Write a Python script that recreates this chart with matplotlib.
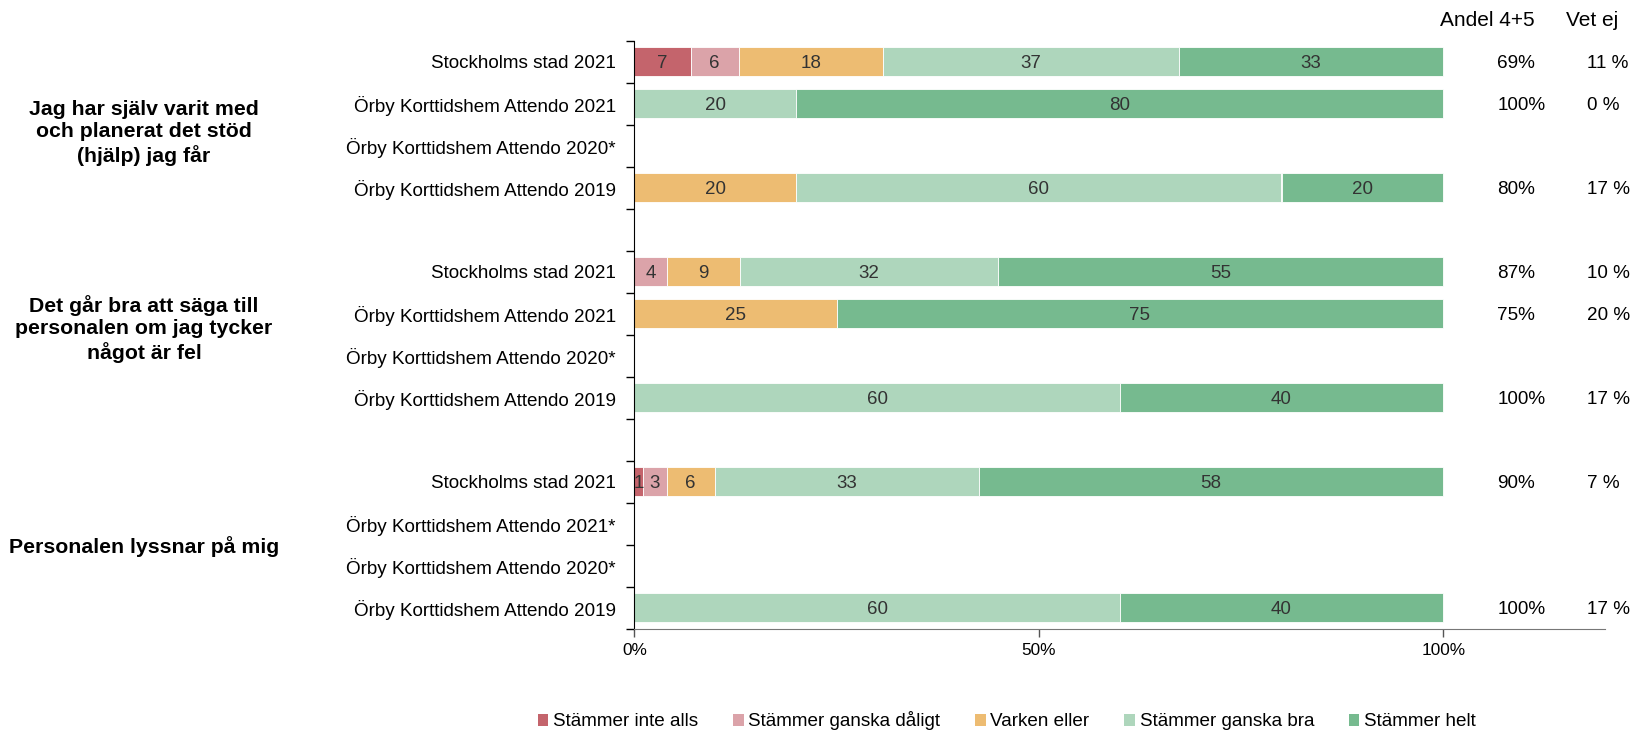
import numpy as np
import matplotlib
matplotlib.use("Agg")
import matplotlib.pyplot as plt
from matplotlib.patches import Patch

plt.rcParams['font.family'] = ['Liberation Sans', 'DejaVu Sans']

# rows from top to bottom, None = empty slot between the groups
rows = ["Stockholms stad 2021", "Örby Korttidshem Attendo 2021", "Örby Korttidshem Attendo 2020*",
        "Örby Korttidshem Attendo 2019", None,
        "Stockholms stad 2021", "Örby Korttidshem Attendo 2021", "Örby Korttidshem Attendo 2020*",
        "Örby Korttidshem Attendo 2019", None,
        "Stockholms stad 2021", "Örby Korttidshem Attendo 2021*", "Örby Korttidshem Attendo 2020*",
        "Örby Korttidshem Attendo 2019"]

series = ["Stämmer inte alls", "Stämmer ganska dåligt", "Varken eller", "Stämmer ganska bra", "Stämmer helt"]
colors = ["#C4646C", "#DBA3A9", "#EDBC72", "#AED6BC", "#76BA8F"]

inte_alls = [7, 0, 0, 0, 0, 0, 0, 0, 0, 0, 1, 0, 0, 0]
daligt    = [6, 0, 0, 0, 0, 4, 0, 0, 0, 0, 3, 0, 0, 0]
varken    = [18, 0, 0, 20, 0, 9, 25, 0, 0, 0, 6, 0, 0, 0]
ganska_bra = [37, 20, 0, 60, 0, 32, 0, 0, 60, 0, 33, 0, 0, 60]
helt      = [33, 80, 0, 20, 0, 55, 75, 0, 40, 0, 58, 0, 0, 40]

andel = ["69%", "100%", "", "80%", "", "87%", "75%", "", "100%", "", "90%", "", "", "100%"]
vet_ej = ["11 %", "0 %", "", "17 %", "", "10 %", "20 %", "", "17 %", "", "7 %", "", "", "17 %"]

questions = ["Jag har själv varit med\noch planerat det stöd\n(hjälp) jag får",
             "Det går bra att säga till\npersonalen om jag tycker\nnågot är fel",
             "Personalen lyssnar på mig"]

vals = np.array([inte_alls, daligt, varken, ganska_bra, helt], dtype=float)
tot = vals.sum(axis=0)
tot[tot == 0] = 1
frac = vals / tot

fig = plt.figure(figsize=(16.31, 7.32), dpi=100)
ax = fig.add_axes([634.5 / 1631, 1 - 628.7 / 732, (1605 - 634.5) / 1631, (628.7 - 40.7) / 732])

n = len(rows)
y = np.arange(n)
left = np.zeros(n)
for k in range(len(series)):
    ax.barh(y, frac[k], left=left, height=0.68, color=colors[k], edgecolor="white", linewidth=0.6)
    for i in range(n):
        if vals[k, i] > 0:
            ax.text(left[i] + frac[k, i] / 2, y[i], "%d" % vals[k, i], ha="center", va="center_baseline",
                    fontsize=13.5, color="#333333")
    left += frac[k]

ax.set_ylim(n - 0.5, -0.5)
ax.set_xlim(0, 1.2)
ax.set_xticks([0, 0.5, 1.0])
ax.set_xticklabels(["0%", "50%", "100%"], fontsize=12.4)
ax.set_yticks(y)
ax.set_yticklabels([r if r else "" for r in rows], fontsize=13.6)
ax.tick_params(axis="y", which="major", length=0, pad=13.5)
ax.set_yticks(np.arange(n + 1) - 0.5, minor=True)
ax.tick_params(axis="y", which="minor", length=6, width=1, color="black")
ax.tick_params(axis="x", length=6, width=1, color="#555555", pad=4)
for s in ["top", "right"]:
    ax.spines[s].set_visible(False)
ax.spines["left"].set_color("black")
ax.spines["bottom"].set_color("#777777")

for i in range(n):
    ax.text(1.067, y[i], andel[i], ha="left", va="center_baseline", fontsize=13.6, color="black")
    ax.text(1.178, y[i], vet_ej[i], ha="left", va="center_baseline", fontsize=13.6, color="black")

fig.text(1487 / 1631, 1 - 21 / 732, "Andel 4+5", ha="center", va="center", fontsize=15)
fig.text(1592 / 1631, 1 - 21 / 732, "Vet ej", ha="center", va="center", fontsize=15)

q_y = [133, 329, 547]
for q, yy in zip(questions, q_y):
    fig.text(144 / 1631, 1 - yy / 732, q, ha="center", va="center", fontsize=15.3,
             fontweight="bold", linespacing=1.25)

handles = [Patch(facecolor=c, edgecolor="none") for c in colors]
fig.legend(handles, series, loc="center", bbox_to_anchor=(1007 / 1631, 1 - 721 / 732), ncol=5,
           frameon=False, fontsize=13.6, handlelength=0.55, handleheight=0.55, handletextpad=0.25,
           columnspacing=1.85, borderaxespad=0)

fig.savefig("out.png", dpi=100)
